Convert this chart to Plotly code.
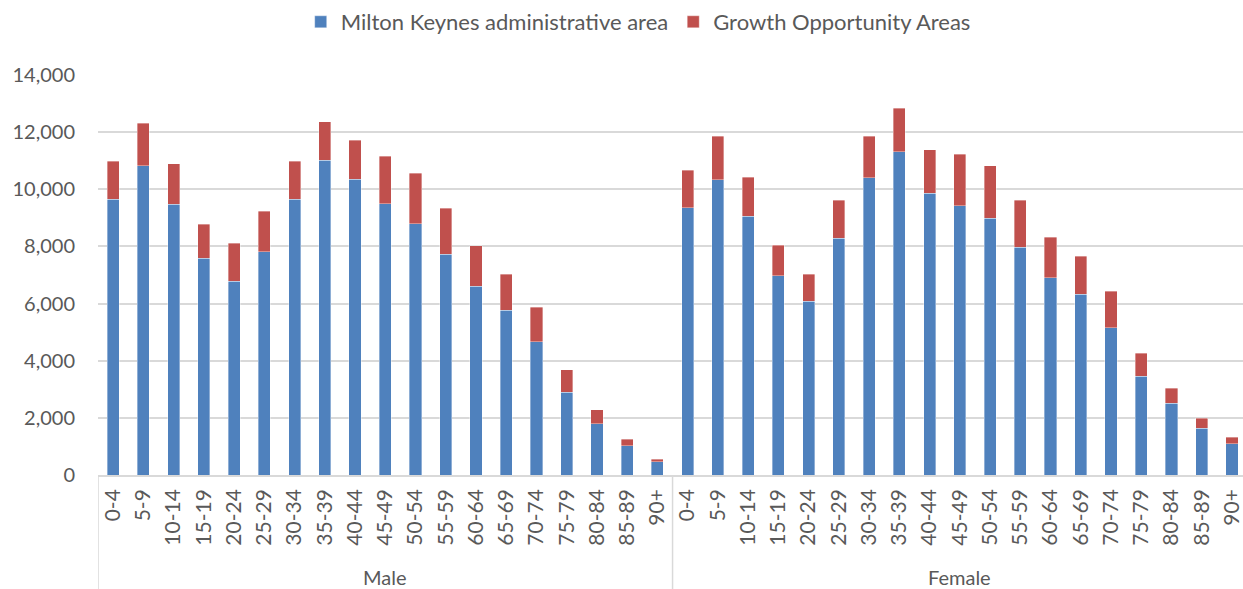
import plotly.graph_objects as go

age_groups = ["0-4", "5-9", "10-14", "15-19", "20-24", "25-29", "30-34", "35-39",
              "40-44", "45-49", "50-54", "55-59", "60-64", "65-69", "70-74",
              "75-79", "80-84", "85-89", "90+"]
sexes = ["Male", "Female"]

male_mk = [9650, 10830, 9470, 7580, 6790, 7820, 9660, 11010, 10350, 9490,
           8800, 7720, 6600, 5760, 4670, 2890, 1800, 1020, 470]
male_goa = [1340, 1480, 1420, 1190, 1330, 1410, 1330, 1350, 1360, 1670,
            1760, 1620, 1430, 1270, 1210, 790, 490, 230, 90]
female_mk = [9360, 10340, 9060, 6970, 6080, 8280, 10410, 11320, 9870, 9430,
             8990, 7980, 6910, 6320, 5160, 3450, 2520, 1640, 1100]
female_goa = [1300, 1520, 1370, 1080, 940, 1340, 1440, 1510, 1520, 1800,
              1830, 1640, 1410, 1340, 1270, 810, 520, 350, 230]

series_names = ["Milton Keynes administrative area", "Growth Opportunity Areas"]
colors = ["#4f81bd", "#c0504d"]

n = len(age_groups)
xs = list(range(2 * n))
labels = age_groups + age_groups
mk_vals = male_mk + female_mk
goa_vals = male_goa + female_goa

FONT = "Lato"
TXT = "#595959"
GRID = "#d9d9d9"

fig = go.Figure()
for name, vals, col in zip(series_names, [mk_vals, goa_vals], colors):
    fig.add_trace(go.Bar(
        x=xs, y=vals, name=name,
        marker=dict(color=col, line=dict(color="rgba(255,255,255,0.45)", width=0.8)),
    ))

W, H = 1243, 589
plot_left, plot_top, plot_bottom = 97.6, 75, 475
pitch = 30.25
x_end = -0.5 + (W - plot_left) / pitch
plot_h = plot_bottom - plot_top

fig.update_layout(
    width=W, height=H,
    margin=dict(l=plot_left, r=0, t=plot_top, b=H - plot_bottom, autoexpand=False),
    barmode="stack", bargap=0.6,
    plot_bgcolor="white", paper_bgcolor="white",
    font=dict(family=FONT, size=20, color=TXT),
    legend=dict(orientation="h", x=(638 - plot_left) / (W - plot_left), xanchor="center",
                y=1 + (plot_top - 22) / plot_h, yanchor="middle",
                font=dict(family=FONT, size=22, color=TXT), traceorder="normal",
                itemwidth=30),
    showlegend=True,
)

fig.update_xaxes(
    range=[-0.5, x_end], tickmode="array", tickvals=xs, ticktext=labels,
    tickangle=-90, showgrid=False, showline=True, linecolor=GRID, linewidth=1.5,
    ticks="", ticklabelstandoff=4, tickfont=dict(family=FONT, size=21, color=TXT),
    zeroline=False,
)
fig.update_yaxes(
    range=[0, 14000], dtick=2000, tickformat=",", showgrid=True, gridcolor=GRID,
    gridwidth=1.5, zeroline=False, showline=False, ticks="",
    ticklabelstandoff=22, tickfont=dict(family=FONT, size=20, color=TXT),
)

# group dividers and group labels
for b in [-0.5, n - 0.5, 2 * n - 0.5]:
    fig.add_shape(type="line", xref="x", yref="paper", x0=b, x1=b, y0=0,
                  y1=-(H - plot_bottom) / plot_h, line=dict(color=GRID, width=1.5))
for i, s in enumerate(sexes):
    fig.add_annotation(text=s, xref="x", yref="paper", x=i * n + (n - 1) / 2,
                       y=-(577 - plot_bottom) / plot_h, yanchor="middle",
                       showarrow=False, font=dict(family=FONT, size=20, color=TXT))

fig.write_html("out.html")
